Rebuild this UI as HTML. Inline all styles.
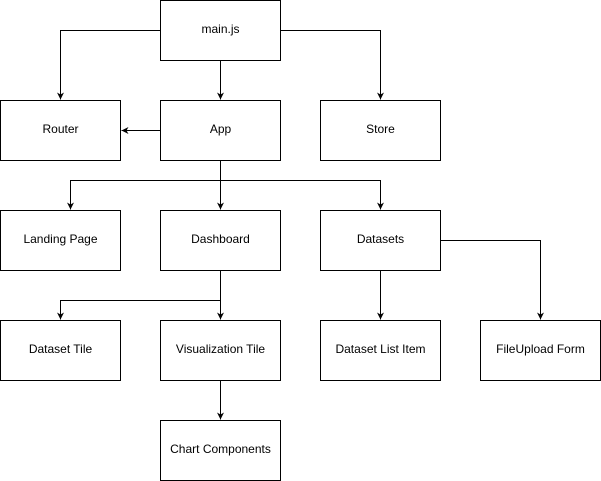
<!DOCTYPE html>
<html><head><meta charset="utf-8"><style>
html,body{margin:0;padding:0;background:#fff;}
svg{display:block;}
text{font-family:"Liberation Sans",Arial,sans-serif;font-size:12px;fill:#000;}
</style></head><body>
<svg width="601" height="481" viewBox="0 0 601 481" xmlns="http://www.w3.org/2000/svg">
<defs>
<marker id="a" markerWidth="8" markerHeight="8" refX="7" refY="4" orient="auto" markerUnits="userSpaceOnUse">
<path d="M0,0.5 L7,4 L0,7.5 L2,4 Z" fill="#000"/>
</marker>
</defs>
<g fill="#fff" stroke="#000" stroke-width="1">
<rect x="160.5" y="0.5" width="120" height="60"/>
<rect x="0.5" y="100.5" width="120" height="60"/>
<rect x="160.5" y="100.5" width="120" height="60"/>
<rect x="320.5" y="100.5" width="120" height="60"/>
<rect x="0.5" y="210.5" width="120" height="60"/>
<rect x="160.5" y="210.5" width="120" height="60"/>
<rect x="320.5" y="210.5" width="120" height="60"/>
<rect x="0.5" y="320.5" width="120" height="60"/>
<rect x="160.5" y="320.5" width="120" height="60"/>
<rect x="320.5" y="320.5" width="120" height="60"/>
<rect x="480.5" y="320.5" width="120" height="60"/>
<rect x="160.5" y="420.5" width="120" height="60"/>
</g>
<g fill="none" stroke="#000" stroke-width="1" marker-end="url(#a)">
<path d="M160.5,30.5 H60.5 V99.5"/>
<path d="M220.5,60.5 V99.5"/>
<path d="M280.5,30.5 H380.5 V99.5"/>
<path d="M160.5,130.5 H121.5"/>
<path d="M220.5,160.5 V180.5 H70.5 V209.5"/>
<path d="M220.5,180.5 H380.5 V209.5"/>
<path d="M220.5,160.5 V209.5"/>
<path d="M220.5,270.5 V300.5 H60.5 V319.5"/>
<path d="M220.5,270.5 V319.5"/>
<path d="M380.5,270.5 V319.5"/>
<path d="M440.5,240.5 H540.5 V319.5"/>
<path d="M220.5,380.5 V419.5"/>
</g>
<g text-anchor="middle">
<text x="220.5" y="33">main.js</text>
<text x="60.5" y="133">Router</text>
<text x="220.5" y="133">App</text>
<text x="380.5" y="133">Store</text>
<text x="60.5" y="243">Landing Page</text>
<text x="220.5" y="243">Dashboard</text>
<text x="380.5" y="243">Datasets</text>
<text x="60.5" y="353">Dataset Tile</text>
<text x="220.5" y="353">Visualization Tile</text>
<text x="380.5" y="353">Dataset List Item</text>
<text x="540.5" y="353">FileUpload Form</text>
<text x="220.5" y="453">Chart Components</text>
</g>
</svg>
</body></html>
